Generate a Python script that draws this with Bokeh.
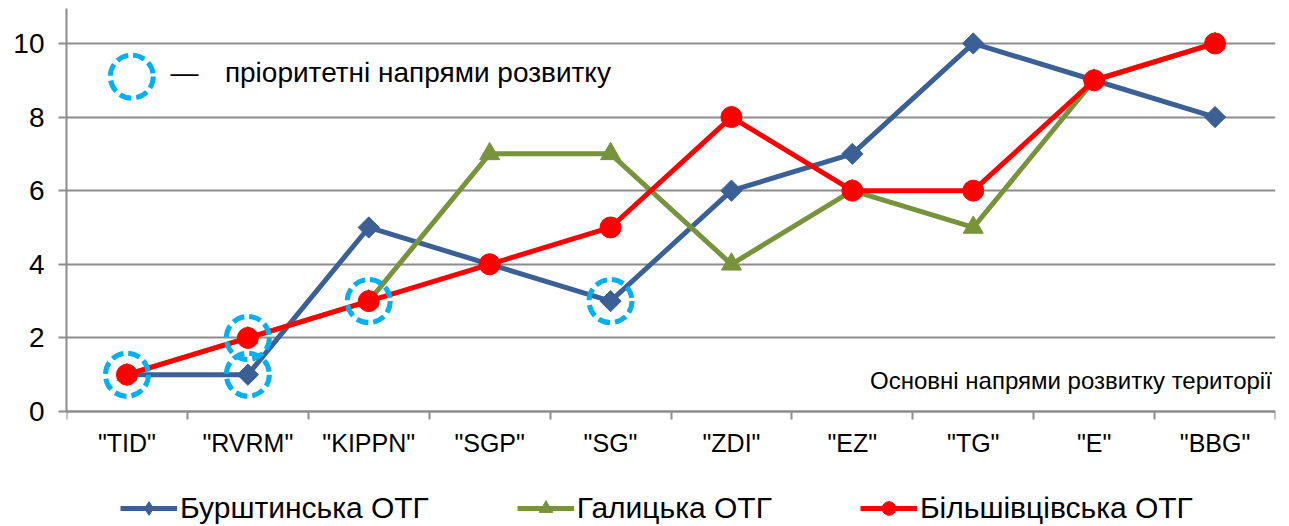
from bokeh.plotting import figure
from bokeh.models import (Range1d, FixedTicker, Legend, LegendItem, Label)
from bokeh.embed import file_html
from bokeh.resources import INLINE

categories = ['"TID"', '"RVRM"', '"KIPPN"', '"SGP"', '"SG"', '"ZDI"', '"EZ"', '"TG"', '"E"', '"BBG"']
burshtyn = [1, 1, 5, 4, 3, 6, 7, 10, 9, 8]
halych = [1, 2, 3, 7, 7, 4, 6, 5, 9, 10]
bilshivtsi = [1, 2, 3, 4, 5, 8, 6, 6, 9, 10]
series_names = ["Бурштинська ОТГ", "Галицька ОТГ", "Більшівцівська ОТГ"]

priority_cat = ['"TID"', '"RVRM"', '"RVRM"', '"KIPPN"', '"SG"']
priority_val = [1, 2, 1, 3, 3]

y_ticks = [0, 2, 4, 6, 8, 10]
note_text = "пріоритетні напрями розвитку"
axis_note = "Основні напрями розвитку території"

FONT = "Liberation Sans"
BLUE = "#3B6095"
GREEN = "#77933C"
RED = "#FF0000"
CYAN = "#00B0F0"
GREY = "#8C8C8C"

xpos = [i + 0.5 for i in range(len(categories))]
cat_pos = {c: i + 0.5 for i, c in enumerate(categories)}

# frame runs to the bottom of the canvas so the legend can sit inside it;
# the x axis is pinned at y = 0
p = figure(width=1289, height=526, output_backend="svg", toolbar_location=None,
           x_range=Range1d(0, len(categories)), y_range=Range1d(-3.125, 10.95),
           min_border_left=66, min_border_right=14, min_border_top=8, min_border_bottom=0)
p.outline_line_color = None
p.background_fill_color = "white"
p.border_fill_color = "white"

# axes
xa = p.xaxis[0]
xa.fixed_location = 0
xa.ticker = FixedTicker(ticks=xpos, minor_ticks=list(range(len(categories) + 1)))
xa.major_label_overrides = {x: c for x, c in zip(xpos, categories)}
xa.major_tick_line_color = None
xa.major_tick_out = 8
xa.major_tick_in = 0
xa.minor_tick_line_color = GREY
xa.minor_tick_line_width = 2
xa.minor_tick_out = 8
xa.minor_tick_in = 0
xa.axis_line_color = GREY
xa.axis_line_width = 2
xa.major_label_text_font = FONT
xa.major_label_text_font_size = "25px"
xa.major_label_text_color = "#000000"
xa.major_label_standoff = 10

ya = p.yaxis[0]
ya.ticker = FixedTicker(ticks=y_ticks)
ya.bounds = (0, 10.95)
ya.axis_line_color = GREY
ya.axis_line_width = 2
ya.major_tick_line_color = GREY
ya.major_tick_line_width = 2
ya.major_tick_out = 8
ya.major_tick_in = 0
ya.minor_tick_line_color = None
ya.major_label_text_font = FONT
ya.major_label_text_font_size = "28px"
ya.major_label_text_color = "#000000"
ya.major_label_standoff = 14

p.xgrid.grid_line_color = None
p.ygrid.grid_line_color = GREY
p.ygrid.grid_line_width = 2
p.ygrid.ticker = FixedTicker(ticks=y_ticks)

# series
l1 = p.line(xpos, burshtyn, line_color=BLUE, line_width=5)
m1 = p.scatter(xpos, burshtyn, marker="square", angle=0.785398, size=15,
               fill_color=BLUE, line_color=BLUE)
# zero-size diamond glyph: invisible in the plot, used only for the legend key
k1 = p.scatter(xpos, burshtyn, marker="diamond", size=0,
               fill_color=BLUE, line_color=BLUE)
l2 = p.line(xpos, halych, line_color=GREEN, line_width=5)
m2 = p.scatter(xpos, halych, marker="triangle", size=20,
               fill_color=GREEN, line_color=GREEN)
l3 = p.line(xpos, bilshivtsi, line_color=RED, line_width=5)
m3 = p.scatter(xpos, bilshivtsi, marker="circle", size=21,
               fill_color=RED, line_color=RED)

# priority markers
p.scatter([cat_pos[c] for c in priority_cat], priority_val, marker="circle", size=43,
          fill_color=None, line_color=CYAN, line_width=5, line_dash="12 5")

# in-plot key for priority marker
p.scatter([0.54], [9.1], marker="circle", size=43,
          fill_color=None, line_color=CYAN, line_width=5, line_dash="12 5")
p.add_layout(Label(x=0.86, y=9.2, text="—", text_font=FONT, text_font_size="28px",
                   text_baseline="middle", text_color="#000000"))
p.add_layout(Label(x=1.31, y=9.2, text=note_text, text_font=FONT, text_font_size="28px",
                   text_baseline="middle", text_color="#000000"))
p.add_layout(Label(x=9.97, y=0.85, text=axis_note, text_font=FONT, text_font_size="24px",
                   text_baseline="middle", text_align="right", text_color="#000000"))

legend = Legend(items=[LegendItem(label=series_names[0], renderers=[l1, k1]),
                       LegendItem(label=series_names[1], renderers=[l2, m2]),
                       LegendItem(label=series_names[2], renderers=[l3, m3])],
                orientation="horizontal", location=(54, 1),
                label_text_font=FONT, label_text_font_size="30px", label_text_color="#000000",
                glyph_width=57, glyph_height=34, label_standoff=3, spacing=88,
                padding=0, margin=0, border_line_color=None, background_fill_alpha=0)
p.add_layout(legend, "center")

open("out.html", "w").write(file_html(p, INLINE))
